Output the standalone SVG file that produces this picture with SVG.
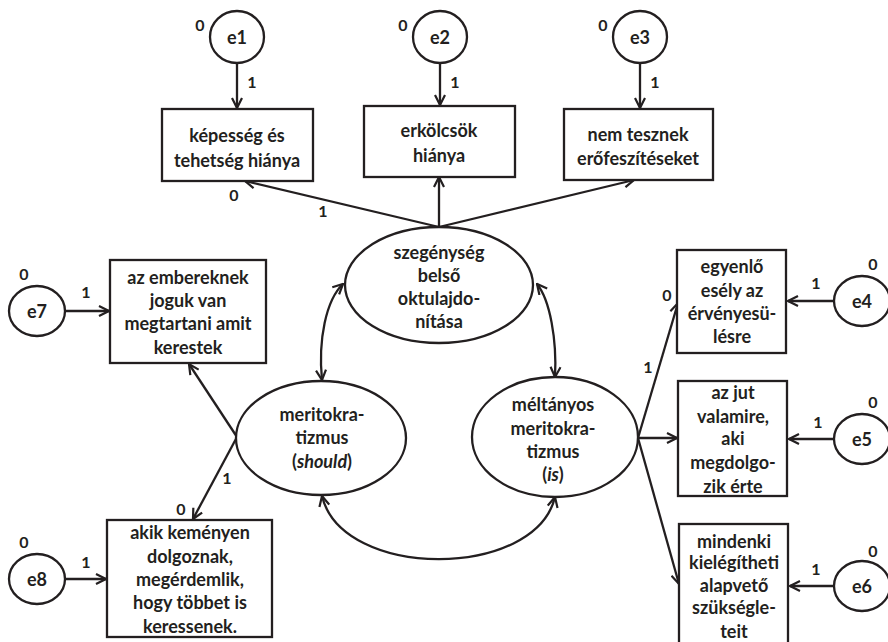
<svg xmlns="http://www.w3.org/2000/svg" width="888" height="642" viewBox="0 0 888 642">
<defs>
<marker id="ah" viewBox="0 0 12 12" refX="11" refY="6" markerWidth="12" markerHeight="12" markerUnits="userSpaceOnUse" orient="auto-start-reverse">
<path d="M1,1 L11,6 L1,11" fill="none" stroke="#231f20" stroke-width="2.2"/>
</marker>
<style>
.n{fill:#fff;stroke:#231f20;stroke-width:2.3}
.t{font-family:Lato,"Open Sans","Liberation Sans",sans-serif;font-weight:bold;font-size:18px;fill:#231f20;text-anchor:middle}
.l{font-family:Lato,"Liberation Sans",sans-serif;font-weight:bold;font-size:16px;fill:#231f20;text-anchor:middle}
.c{fill:none;stroke:#231f20;stroke-width:2.3;marker-end:url(#ah)}
.d{fill:none;stroke:#231f20;stroke-width:2.3;marker-end:url(#ah);marker-start:url(#ah)}
</style>
</defs>
<rect width="888" height="642" fill="#fff"/>
<g id="connectors">
<line class="c" x1="237" y1="63" x2="237" y2="108"/>
<line class="c" x1="440" y1="63" x2="440" y2="105"/>
<line class="c" x1="640" y1="63" x2="640" y2="108"/>
<line class="c" x1="439" y1="227" x2="245" y2="181"/>
<line class="c" x1="439" y1="227" x2="439" y2="177"/>
<line class="c" x1="439" y1="227" x2="634" y2="180"/>
<path class="d" d="M343,284 C326,300 318,340 322,380"/>
<path class="d" d="M537,284 C550,300 557,340 555,377"/>
<path class="d" d="M322,496 C342,580 535,580 555,497"/>
<line class="c" x1="65" y1="311" x2="109" y2="311"/>
<line class="c" x1="237" y1="437" x2="189" y2="364"/>
<line class="c" x1="237" y1="437" x2="193" y2="519"/>
<line class="c" x1="65" y1="579" x2="106" y2="579"/>
<line class="c" x1="638" y1="438" x2="678" y2="303"/>
<line class="c" x1="638" y1="438" x2="677" y2="438"/>
<line class="c" x1="638" y1="438" x2="679" y2="584"/>
<line class="c" x1="834" y1="301" x2="788" y2="301"/>
<line class="c" x1="834" y1="439" x2="789" y2="439"/>
<line class="c" x1="834" y1="586" x2="790" y2="586"/>
<text class="l" x="252" y="88">1</text>
<text class="l" x="455" y="88">1</text>
<text class="l" x="655" y="88">1</text>
<text class="l" x="234" y="201">0</text>
<text class="l" x="323" y="217">1</text>
<text class="l" x="86" y="298">1</text>
<text class="l" x="227" y="484">1</text>
<text class="l" x="181" y="515">0</text>
<text class="l" x="86" y="568">1</text>
<text class="l" x="667" y="301">0</text>
<text class="l" x="648" y="373">1</text>
<text class="l" x="816" y="289">1</text>
<text class="l" x="818" y="428">1</text>
<text class="l" x="816" y="575">1</text>
</g>
<g id="e1"><ellipse class="n" cx="237" cy="37" rx="27" ry="26"/><text class="t" x="237" y="44">e1</text><text class="l" x="200" y="31">0</text></g>
<g id="e2"><ellipse class="n" cx="440" cy="37" rx="27" ry="26"/><text class="t" x="440" y="44">e2</text><text class="l" x="403" y="31">0</text></g>
<g id="e3"><ellipse class="n" cx="640" cy="37" rx="27" ry="26"/><text class="t" x="640" y="44">e3</text><text class="l" x="603" y="31">0</text></g>
<g id="box1"><rect class="n" x="162" y="109" width="151" height="72"/><text class="t" x="237" y="142">képesség és</text><text class="t" x="237" y="167">tehetség hiánya</text></g>
<g id="box2"><rect class="n" x="364" y="106" width="151" height="71"/><text class="t" x="439" y="137">erkölcsök</text><text class="t" x="439" y="162">hiánya</text></g>
<g id="box3"><rect class="n" x="564" y="109" width="149" height="71"/><text class="t" x="638" y="141">nem tesznek</text><text class="t" x="638" y="165">erőfeszítéseket</text></g>
<g id="szegenyseg"><ellipse class="n" cx="439" cy="285" rx="94" ry="58"/><text class="t" x="439" y="259">szegénység</text><text class="t" x="439" y="282">belső</text><text class="t" x="439" y="305">oktulajdo-</text><text class="t" x="439" y="328">nítása</text></g>
<g id="e7"><ellipse class="n" cx="37" cy="311" rx="28" ry="25"/><text class="t" x="37" y="318">e7</text><text class="l" x="24" y="280">0</text></g>
<g id="box7"><rect class="n" x="110" y="260" width="156" height="103"/><text class="t" x="188" y="284">az embereknek</text><text class="t" x="188" y="307">joguk van</text><text class="t" x="188" y="330">megtartani amit</text><text class="t" x="188" y="354">kerestek</text></g>
<g id="meritokratizmus"><ellipse class="n" cx="321" cy="438" rx="85" ry="57"/><text class="t" x="322" y="421">meritokra-</text><text class="t" x="322" y="444">tizmus</text><text class="t" x="322" y="468">(<tspan font-style="italic">should</tspan>)</text></g>
<g id="e8"><ellipse class="n" cx="37" cy="579" rx="28" ry="25"/><text class="t" x="37" y="586">e8</text><text class="l" x="24" y="548">0</text></g>
<g id="box8"><rect class="n" x="107" y="520" width="165" height="117"/><text class="t" x="190" y="539">akik keményen</text><text class="t" x="190" y="563">dolgoznak,</text><text class="t" x="190" y="586">megérdemlik,</text><text class="t" x="190" y="609">hogy többet is</text><text class="t" x="190" y="633">keressenek.</text></g>
<g id="meltanyos"><ellipse class="n" cx="555" cy="437" rx="83" ry="60"/><text class="t" x="553" y="411">méltányos</text><text class="t" x="553" y="435">meritokra-</text><text class="t" x="553" y="458">tizmus</text><text class="t" x="553" y="481">(<tspan font-style="italic">is</tspan>)</text></g>
<g id="box4"><rect class="n" x="677" y="250" width="109" height="103"/><text class="t" x="732" y="273">egyenlő</text><text class="t" x="732" y="297">esély az</text><text class="t" x="732" y="320">érvényesü-</text><text class="t" x="732" y="343">lésre</text></g>
<g id="e4"><ellipse class="n" cx="862" cy="301" rx="28" ry="25"/><text class="t" x="862" y="308">e4</text><text class="l" x="873" y="270">0</text></g>
<g id="box5"><rect class="n" x="678" y="381" width="109" height="115"/><text class="t" x="733" y="399">az jut</text><text class="t" x="733" y="423">valamire,</text><text class="t" x="733" y="445">aki</text><text class="t" x="733" y="469">megdolgo-</text><text class="t" x="733" y="493">zik érte</text></g>
<g id="e5"><ellipse class="n" cx="862" cy="439" rx="28" ry="25"/><text class="t" x="862" y="446">e5</text><text class="l" x="873" y="408">0</text></g>
<g id="box6"><rect class="n" x="679" y="524" width="109" height="125"/><text class="t" x="734" y="548">mindenki</text><text class="t" x="734" y="569">kielégítheti</text><text class="t" x="734" y="592">alapvető</text><text class="t" x="734" y="614">szükségle-</text><text class="t" x="734" y="638">teit</text></g>
<g id="e6"><ellipse class="n" cx="862" cy="586" rx="28" ry="25"/><text class="t" x="862" y="593">e6</text><text class="l" x="873" y="557">0</text></g>
</svg>
